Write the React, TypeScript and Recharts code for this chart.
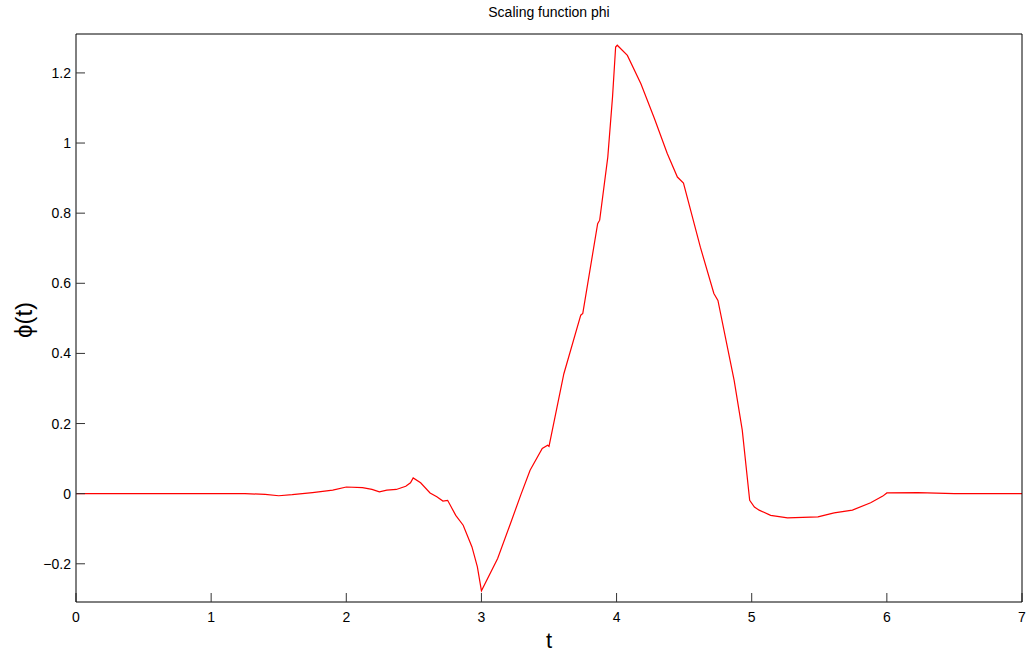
import { LineChart, Line, XAxis, YAxis } from 'recharts'

// t samples and phi(t) values
const tValues = [
  0, 0.5, 1, 1.25, 1.4, 1.5, 1.6, 1.75, 1.9, 2.0,
  2.12, 2.19, 2.245, 2.3, 2.37, 2.44, 2.475, 2.495, 2.55, 2.62,
  2.67, 2.715, 2.75, 2.81, 2.865, 2.93, 2.97, 3.0, 3.12, 3.215,
  3.29, 3.36, 3.45, 3.49, 3.5, 3.61, 3.735, 3.75, 3.86, 3.875,
  3.935, 3.97, 3.993, 4.005, 4.08, 4.18, 4.28, 4.375, 4.45, 4.495,
  4.62, 4.72, 4.75, 4.87, 4.93, 4.985, 5.02, 5.055, 5.14, 5.265,
  5.49, 5.61, 5.745, 5.88, 5.97, 6.0, 6.23, 6.5, 7,
]
const phiValues = [
  0, 0, 0, 0, -0.002, -0.006, -0.003, 0.003, 0.01, 0.019,
  0.017, 0.012, 0.005, 0.01, 0.012, 0.021, 0.031, 0.045, 0.031, 0.002,
  -0.009, -0.021, -0.019, -0.062, -0.09, -0.152, -0.209, -0.277, -0.185, -0.085,
  -0.005, 0.067, 0.129, 0.138, 0.135, 0.342, 0.509, 0.514, 0.77, 0.78,
  0.96, 1.131, 1.274, 1.279, 1.25, 1.169, 1.07, 0.97, 0.903, 0.886,
  0.703, 0.571, 0.551, 0.323, 0.181, -0.019, -0.038, -0.047, -0.062, -0.069,
  -0.066, -0.055, -0.047, -0.026, -0.007, 0.002, 0.003, 0, 0,
]

const xTicks = [0, 1, 2, 3, 4, 5, 6, 7]
const yTicks = [-0.2, 0, 0.2, 0.4, 0.6, 0.8, 1, 1.2]

const font = '"Liberation Sans", Arial, Helvetica, sans-serif'
const tickStyle = { fontSize: 14, fill: '#000', fontFamily: font }

const fmt = (v: number) => (v < 0 ? '\u2212' + String(-v) : String(v))

export default function App() {
  const data = tValues.map((t, i) => ({ t, phi: phiValues[i] }))

  return (
    <div style={{ position: 'absolute', left: 0, top: 0, width: 1026, height: 659, background: '#fff' }}>
      <LineChart width={1026} height={659} data={data} margin={{ top: 29, right: 0, bottom: 27, left: 6 }}>
        <XAxis
          xAxisId="b"
          dataKey="t"
          type="number"
          domain={[0, 7]}
          ticks={xTicks}
          height={30}
          tickSize={-9}
          tickMargin={19}
          stroke="#000"
          tick={tickStyle}
          tickLine={{ stroke: '#333' }}
          allowDataOverflow
        />
        <XAxis
          xAxisId="top"
          orientation="top"
          dataKey="t"
          type="number"
          domain={[0, 7]}
          ticks={xTicks}
          height={5}
          tickSize={-9}
          tick={false}
          tickLine={{ stroke: '#333' }}
          stroke="#000"
          allowDataOverflow
        />
        <YAxis
          yAxisId="l"
          type="number"
          domain={[-0.309, 1.311]}
          ticks={yTicks}
          width={70}
          tickSize={-9}
          tickMargin={14}
          tickFormatter={fmt}
          stroke="#000"
          tick={tickStyle}
          tickLine={{ stroke: '#333' }}
          allowDataOverflow
        />
        <YAxis
          yAxisId="r"
          orientation="right"
          type="number"
          domain={[-0.309, 1.311]}
          ticks={yTicks}
          width={4}
          tickSize={-9}
          tick={false}
          tickLine={{ stroke: '#333' }}
          stroke="#000"
          allowDataOverflow
        />
        <Line
          xAxisId="b"
          yAxisId="l"
          type="linear"
          dataKey="phi"
          stroke="#ff0000"
          strokeWidth={1.2}
          dot={false}
          isAnimationActive={false}
        />
      </LineChart>
      <div style={{ position: 'absolute', left: 349, width: 400, top: 4, textAlign: 'center', fontFamily: font, fontSize: 14, color: '#000' }}>
        Scaling function phi
      </div>
      <div style={{ position: 'absolute', left: 449, width: 200, top: 628, textAlign: 'center', fontFamily: font, fontSize: 22, color: '#000' }}>
        t
      </div>
      <div
        style={{
          position: 'absolute',
          left: 24,
          top: 320,
          transform: 'translate(-50%, -50%) rotate(-90deg)',
          fontFamily: font,
          fontSize: 24,
          color: '#000',
          whiteSpace: 'nowrap',
        }}
      >
        ϕ(t)
      </div>
    </div>
  )
}
